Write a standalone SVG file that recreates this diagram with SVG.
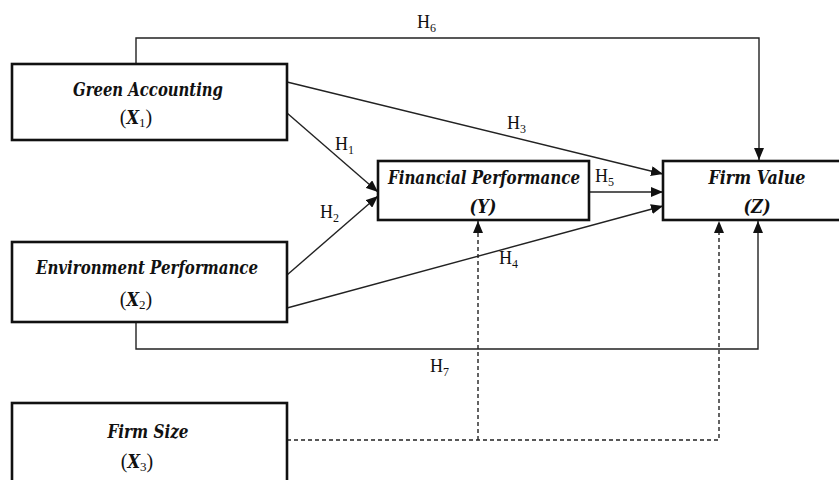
<svg xmlns="http://www.w3.org/2000/svg" width="839" height="480" viewBox="0 0 839 480">
<style>
.box{fill:#fff;stroke:#111;stroke-width:2.6}
.t{font-family:"DejaVu Serif Condensed","DejaVu Serif",serif;font-weight:bold;font-style:italic;font-size:18px;fill:#111;text-anchor:middle}
.v{font-family:"Liberation Serif",serif;font-size:20px;fill:#111;text-anchor:middle}
.xi{font-family:"DejaVu Serif Condensed","DejaVu Serif",serif;font-style:italic;font-weight:bold;font-size:18px}
.h{font-family:"Liberation Serif",serif;font-size:18px;fill:#111}
.c{fill:none;stroke:#222;stroke-width:1.4}
.d{fill:none;stroke:#222;stroke-width:1.4;stroke-dasharray:4 3}
</style>
<defs>
<marker id="arr" markerUnits="userSpaceOnUse" markerWidth="12" markerHeight="10" viewBox="0 0 12 10" refX="12" refY="5" orient="auto">
<path d="M0,0 L12,5 L0,10 Z" fill="#111"/>
</marker>
</defs>
<rect width="839" height="480" fill="#fff"/>
<g id="connectors">
<path class="c" d="M136,64 V38 H759 V160" marker-end="url(#arr)"/>
<path class="c" d="M136,322 V349 H758 V221" marker-end="url(#arr)"/>
<line class="c" x1="287" y1="113" x2="378" y2="192" marker-end="url(#arr)"/>
<line class="c" x1="287" y1="275" x2="378" y2="196" marker-end="url(#arr)"/>
<line class="c" x1="287" y1="82" x2="663" y2="174" marker-end="url(#arr)"/>
<line class="c" x1="589" y1="192" x2="663" y2="192" marker-end="url(#arr)"/>
<line class="c" x1="287" y1="308" x2="663" y2="206" marker-end="url(#arr)"/>
<path class="d" d="M287,440 H719 V221" marker-end="url(#arr)"/>
<path class="d" d="M478,440 V221" marker-end="url(#arr)"/>
<text class="h" x="417" y="28">H<tspan font-size="12" dy="4">6</tspan></text>
<text class="h" x="507" y="129">H<tspan font-size="12" dy="4">3</tspan></text>
<text class="h" x="335" y="150">H<tspan font-size="12" dy="4">1</tspan></text>
<text class="h" x="320" y="218">H<tspan font-size="12" dy="4">2</tspan></text>
<text class="h" x="595" y="182">H<tspan font-size="12" dy="4">5</tspan></text>
<text class="h" x="499" y="264">H<tspan font-size="12" dy="4">4</tspan></text>
<text class="h" x="430" y="372">H<tspan font-size="12" dy="4">7</tspan></text>
</g>
<g id="green-accounting">
<rect class="box" x="12" y="64" width="275" height="76"/>
<text class="t" x="148" y="96" textLength="150" lengthAdjust="spacingAndGlyphs">Green Accounting</text>
<text class="v" x="136" y="124">(<tspan class="xi">X</tspan><tspan font-size="13" dy="3">1</tspan><tspan dy="-3">)</tspan></text>
</g>
<g id="environment-performance">
<rect class="box" x="12" y="242" width="275" height="80"/>
<text class="t" x="147" y="274" textLength="222" lengthAdjust="spacingAndGlyphs">Environment Performance</text>
<text class="v" x="136" y="306">(<tspan class="xi">X</tspan><tspan font-size="13" dy="3">2</tspan><tspan dy="-3">)</tspan></text>
</g>
<g id="firm-size">
<rect class="box" x="12" y="403" width="275" height="90"/>
<text class="t" x="148" y="438" textLength="81" lengthAdjust="spacingAndGlyphs">Firm Size</text>
<text class="v" x="137" y="468">(<tspan class="xi">X</tspan><tspan font-size="13" dy="3">3</tspan><tspan dy="-3">)</tspan></text>
</g>
<g id="financial-performance">
<rect class="box" x="378" y="161" width="211" height="59"/>
<text class="t" x="484" y="184" textLength="192" lengthAdjust="spacingAndGlyphs">Financial Performance</text>
<text class="t" x="483" y="213">(Y)</text>
</g>
<g id="firm-value">
<rect class="box" x="663" y="161" width="190" height="59"/>
<text class="t" x="757" y="184" textLength="97" lengthAdjust="spacingAndGlyphs">Firm Value</text>
<text class="t" x="757" y="213">(Z)</text>
</g>
</svg>
